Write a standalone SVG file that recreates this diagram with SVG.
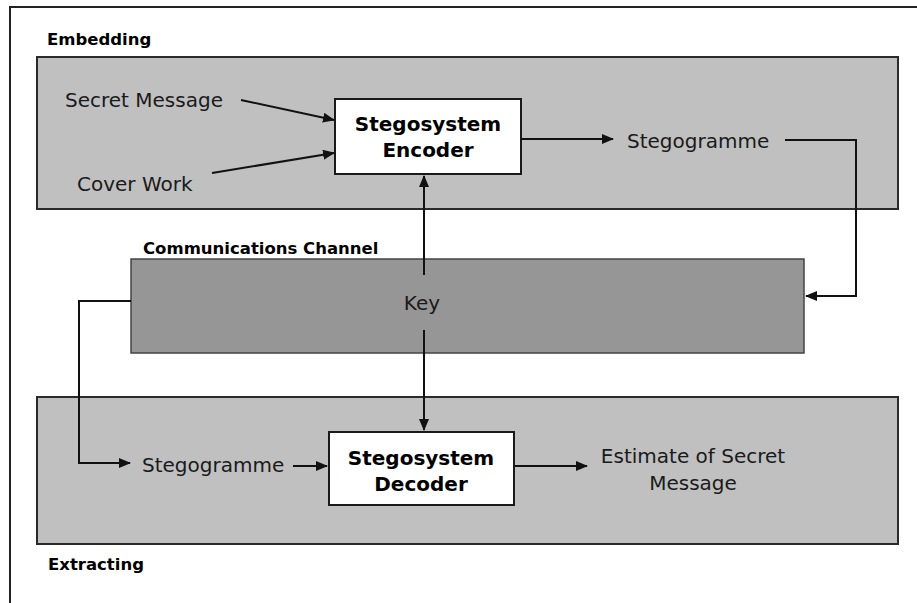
<svg xmlns="http://www.w3.org/2000/svg" width="917" height="603" viewBox="0 0 917 603">
<defs>
<style>
.t{font-family:"DejaVu Sans","Liberation Sans",sans-serif;font-size:20px;fill:#1a1a1a}
.b{font-family:"DejaVu Sans","Liberation Sans",sans-serif;font-weight:bold;fill:#000}
.lbl{font-size:16.5px}
.box{font-size:20px}
.panel{fill:#c0c0c0;stroke:#2a2a2a;stroke-width:2}
.node{fill:#fff;stroke:#1a1a1a;stroke-width:2}
.c{fill:none;stroke:#111;stroke-width:2}
</style>
<marker id="ah" viewBox="0 0 12 10" refX="11" refY="5" markerWidth="12" markerHeight="10" markerUnits="userSpaceOnUse" orient="auto">
<path d="M0,0 L12,5 L0,10 Z" fill="#111"/>
</marker>
</defs>
<rect width="917" height="603" fill="#fff"/>
<path d="M10,603 V7 H917" fill="none" stroke="#222" stroke-width="2"/>

<g id="embedding">
<rect class="panel" x="37" y="57" width="861" height="152"/>
<text class="b lbl" x="47" y="45">Embedding</text>
</g>
<g id="channel">
<rect x="131" y="259" width="673" height="94" fill="#969696" stroke="#444" stroke-width="1.5"/>
<text class="b lbl" x="143" y="254">Communications Channel</text>
</g>
<g id="extracting">
<rect class="panel" x="37" y="397" width="861" height="147"/>
<text class="b lbl" x="48" y="570">Extracting</text>
</g>

<g id="secret-message"><text class="t" x="65" y="107">Secret Message</text></g>
<g id="cover-work"><text class="t" x="77" y="191">Cover Work</text></g>
<g id="encoder">
<rect class="node" x="335" y="99" width="186" height="75"/>
<text class="b box" x="428" y="131" text-anchor="middle">Stegosystem</text>
<text class="b box" x="428" y="157" text-anchor="middle">Encoder</text>
</g>
<g id="stegogramme-out"><text class="t" x="627" y="148">Stegogramme</text></g>
<g id="key"><text class="t" x="422" y="310" text-anchor="middle">Key</text></g>
<g id="stegogramme-in"><text class="t" x="142" y="472">Stegogramme</text></g>
<g id="decoder">
<rect class="node" x="329" y="432" width="185" height="73"/>
<text class="b box" x="421" y="465" text-anchor="middle">Stegosystem</text>
<text class="b box" x="421" y="491" text-anchor="middle">Decoder</text>
</g>
<g id="estimate">
<text class="t" x="693" y="463" text-anchor="middle">Estimate of Secret</text>
<text class="t" x="693" y="490" text-anchor="middle">Message</text>
</g>

<g id="connectors">
<line class="c" x1="241" y1="100" x2="334" y2="120" marker-end="url(#ah)"/>
<line class="c" x1="212" y1="173" x2="334" y2="153" marker-end="url(#ah)"/>
<line class="c" x1="521" y1="139" x2="613" y2="139" marker-end="url(#ah)"/>
<path class="c" d="M785,140 H856 V296 H806" marker-end="url(#ah)"/>
<line class="c" x1="424" y1="275" x2="424" y2="176" marker-end="url(#ah)"/>
<line class="c" x1="424" y1="330" x2="424" y2="430" marker-end="url(#ah)"/>
<path class="c" d="M131,301 H79 V463 H130" marker-end="url(#ah)"/>
<line class="c" x1="293" y1="466" x2="327" y2="466" marker-end="url(#ah)"/>
<line class="c" x1="515" y1="466" x2="587" y2="466" marker-end="url(#ah)"/>
</g>
</svg>
